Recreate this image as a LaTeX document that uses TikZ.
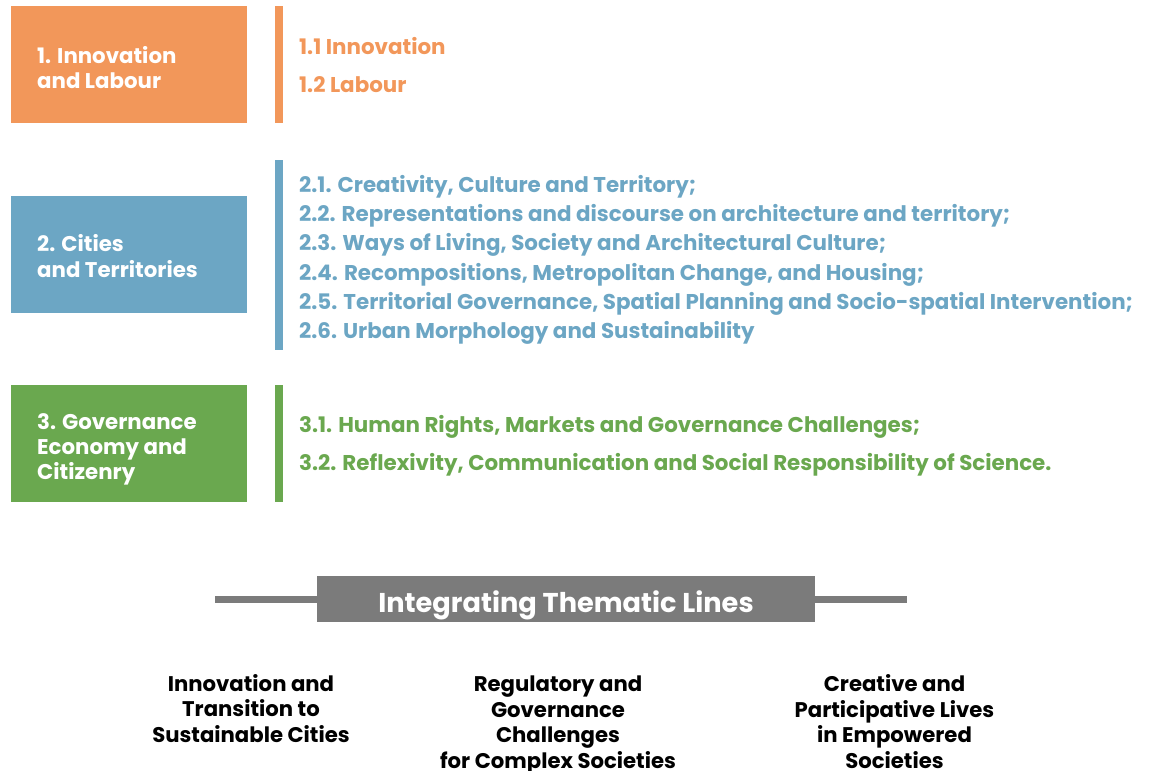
\documentclass[tikz,border=0pt]{standalone}
\usepackage{fontspec}
\setmainfont{Poppins}
\definecolor{corange}{HTML}{F2975A}
\definecolor{cblue}{HTML}{6CA6C4}
\definecolor{cgreen}{HTML}{6AA84F}
\definecolor{cgrey}{HTML}{7B7B7B}
\begin{document}
\begin{tikzpicture}[x=1pt,y=-1pt,
  box/.style={rectangle,inner sep=0pt,minimum width=236pt,minimum height=117pt},
  boxtext/.style={anchor=base west,inner sep=0pt,text=white,font=\bfseries\fontsize{21.3}{25}\selectfont},
  subtext/.style={anchor=base west,inner sep=0pt,font=\bfseries\fontsize{21.4}{25}\selectfont},
  bottomtext/.style={anchor=base,inner sep=0pt,align=center,text=black,font=\bfseries\fontsize{21.2}{25.5}\selectfont},
  greyline/.style={draw=cgrey,line width=7pt}]
\useasboundingbox (0,0) rectangle (1152,771);
% group 1
\node[box,fill=corange] (b1) at (129,64.5) {};
\node[boxtext] (b1a) at (37,63) {1. Innovation};
\node[boxtext] (b1b) at (37,88) {and Labour};
\fill[corange] (275,6) rectangle (283,123);
\node[subtext,text=corange] (s11) at (299,54) {1.1 Innovation};
\node[subtext,text=corange] (s12) at (299,92) {1.2 Labour};
% group 2
\node[box,fill=cblue] (b2) at (129,254.5) {};
\node[boxtext] (b2a) at (37,251) {2. Cities};
\node[boxtext] (b2b) at (37,277) {and Territories};
\fill[cblue] (275,160) rectangle (283,350);
\node[subtext,text=cblue] (s21) at (299,192.3) {2.1. Creativity, Culture and Territory;};
\node[subtext,text=cblue] (s22) at (299,221.6) {2.2. Representations and discourse on architecture and territory;};
\node[subtext,text=cblue] (s23) at (299,250.9) {2.3. Ways of Living, Society and Architectural Culture;};
\node[subtext,text=cblue] (s24) at (299,280.2) {2.4. Recompositions, Metropolitan Change, and Housing;};
\node[subtext,text=cblue] (s25) at (299,309.5) {2.5. Territorial Governance, Spatial Planning and Socio-spatial Intervention;};
\node[subtext,text=cblue] (s26) at (299,338.8) {2.6. Urban Morphology and Sustainability};
% group 3
\node[box,fill=cgreen] (b3) at (129,443.5) {};
\node[boxtext] (b3a) at (37,429) {3. Governance};
\node[boxtext] (b3b) at (37,454) {Economy and};
\node[boxtext] (b3c) at (37,479) {Citizenry};
\fill[cgreen] (275,385) rectangle (283,502);
\node[subtext,text=cgreen] (s31) at (299,432) {3.1. Human Rights, Markets and Governance Challenges;};
\node[subtext,text=cgreen] (s32) at (299,470) {3.2. Reflexivity, Communication and Social Responsibility of Science.};
% integrating
\node[rectangle,fill=cgrey,inner sep=0pt,minimum width=498pt,minimum height=46pt] (title) at (566,599) {};
\node[anchor=base,inner sep=0pt,text=white,font=\fontseries{sb}\fontsize{27.2}{30}\selectfont] (titletext) at (566,612) {Integrating Thematic Lines};
\coordinate (lend) at (215,599);
\coordinate (rend) at (907,599);
\draw[greyline] (lend) -- (title.west);
\draw[greyline] (title.east) -- (rend);
% bottom
\node[bottomtext] (t1) at (251,742) {Innovation and\\Transition to\\Sustainable Cities};
\node[bottomtext] (t2) at (558,768) {Regulatory and\\Governance\\Challenges\\for Complex Societies};
\node[bottomtext] (t3) at (894.5,768) {Creative and\\Participative Lives\\in Empowered\\Societies};
\end{tikzpicture}
\end{document}
